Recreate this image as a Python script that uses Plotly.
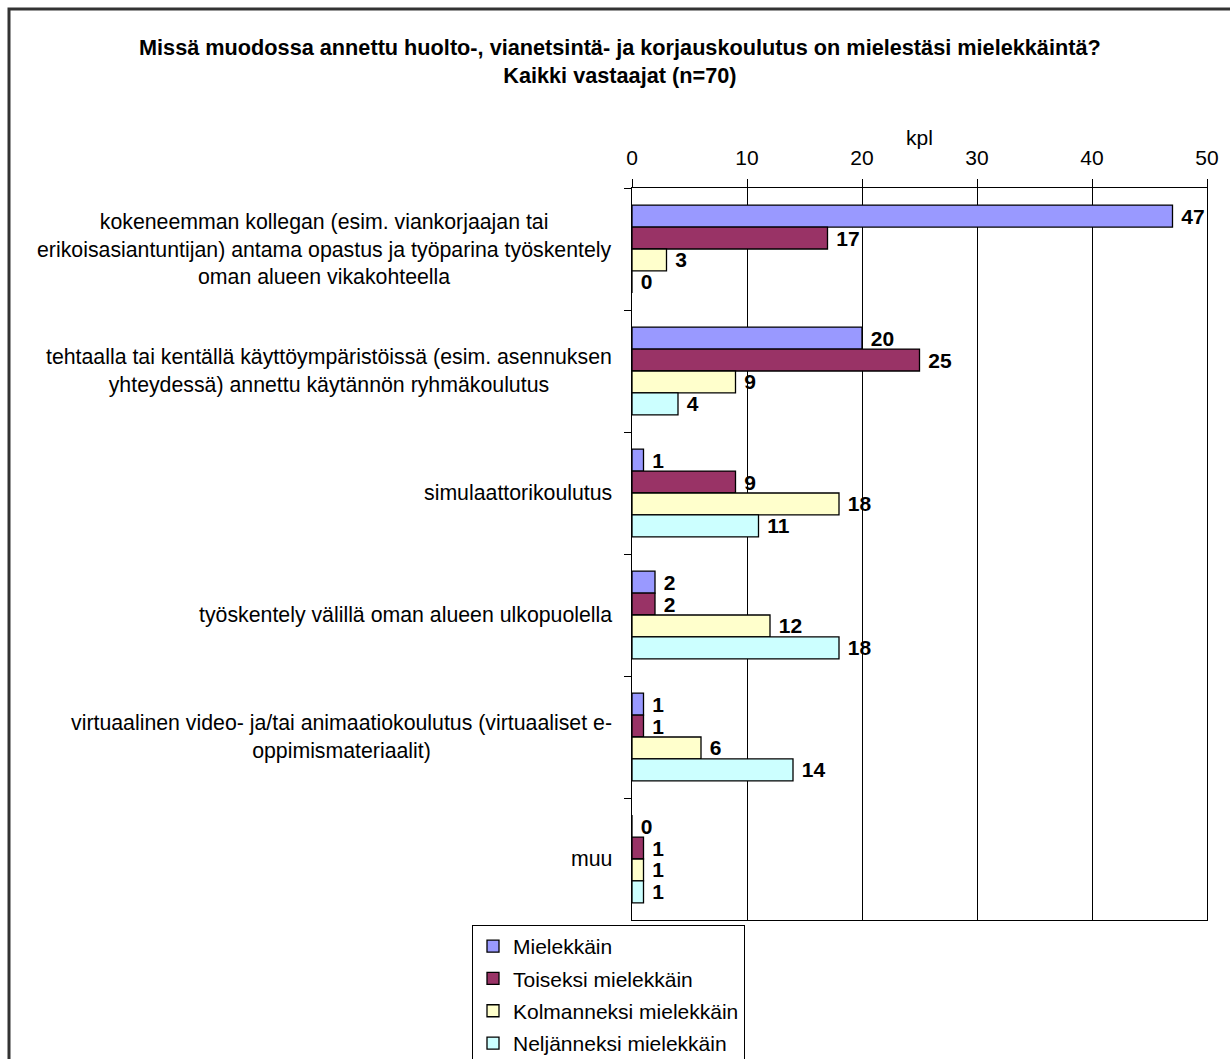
import plotly.graph_objects as go

# Survey answers: how meaningful each form of maintenance training is
categories = [
    "kokeneemman kollegan (esim. viankorjaajan tai<br>erikoisasiantuntijan) antama opastus ja työparina työskentely<br>oman alueen vikakohteella",
    "tehtaalla tai kentällä käyttöympäristöissä (esim. asennuksen<br>yhteydessä) annettu käytännön ryhmäkoulutus",
    "simulaattorikoulutus",
    "työskentely välillä oman alueen ulkopuolella",
    "virtuaalinen video- ja/tai animaatiokoulutus (virtuaaliset e-<br>oppimismateriaalit)",
    "muu",
]
series_names = ["Mielekkäin", "Toiseksi mielekkäin", "Kolmanneksi mielekkäin", "Neljänneksi mielekkäin"]
mielekkain = [47, 20, 1, 2, 1, 0]
toiseksi = [17, 25, 9, 2, 1, 1]
kolmanneksi = [3, 9, 18, 12, 6, 1]
neljanneksi = [0, 4, 11, 18, 14, 1]
series_values = [mielekkain, toiseksi, kolmanneksi, neljanneksi]
colors = ["#9999FF", "#993366", "#FFFFCC", "#CCFFFF"]
x_ticks = [0, 10, 20, 30, 40, 50]

FONT = "Liberation Sans, Arial, sans-serif"
W, H = 1230, 1059
L, R, T, B = 632, 1207, 188, 920


def px_x(p):
    return (p - L) / (R - L)


def px_y(p):
    return (B - p) / (B - T)


fig = go.Figure()
for name, vals, col in zip(series_names, series_values, colors):
    fig.add_trace(go.Bar(
        y=categories, x=vals, name=name, orientation="h",
        marker=dict(color=col, line=dict(color="black", width=1.3)),
        texttemplate="\u00a0%{x}", textposition="outside",
        textfont=dict(family=FONT, size=21, color="black", weight="bold"),
        constraintext="none", cliponaxis=False,
        legendgroup=name,
    ))

annotations = []
# Category labels: centred lines, right-aligned block next to the axis
for cat in categories:
    annotations.append(dict(
        xref="paper", yref="y", x=0, y=cat, xshift=-18,
        xanchor="right", yanchor="middle", align="center",
        text=cat, showarrow=False,
        font=dict(family=FONT, size=21.3, color="black"),
    ))
# Chart title
annotations.append(dict(
    xref="paper", yref="paper", x=px_x(620), y=px_y(33),
    xanchor="center", yanchor="top", align="center",
    text="<b>Missä muodossa annettu huolto-, vianetsintä- ja korjauskoulutus on mielestäsi mielekkäintä?<br>Kaikki vastaajat (n=70)</b>",
    showarrow=False, font=dict(family=FONT, size=21.7, color="black"),
))
# Value axis title
annotations.append(dict(
    xref="x", yref="paper", x=25, y=px_y(137),
    xanchor="center", yanchor="middle", text="kpl", showarrow=False,
    font=dict(family=FONT, size=21, color="black"),
))

shapes = [
    # outer chart frame (runs past the right and bottom edges)
    dict(type="rect", xref="paper", yref="paper",
         x0=px_x(9), x1=px_x(1300), y0=px_y(9), y1=px_y(1120),
         line=dict(color="#333333", width=3), layer="below"),
]

fig.update_layout(
    width=W, height=H,
    margin=dict(l=L, r=W - R, t=T, b=H - B, pad=0, autoexpand=False),
    paper_bgcolor="white", plot_bgcolor="white",
    barmode="group", bargap=0.28, bargroupgap=0,
    font=dict(family=FONT, size=21, color="black"),
    showlegend=True,
    legend=dict(
        x=px_x(472), y=px_y(925), xanchor="left", yanchor="top",
        bordercolor="black", borderwidth=1, bgcolor="white",
        font=dict(family=FONT, size=21, color="black"),
        tracegroupgap=2, traceorder="grouped",
    ),
    annotations=annotations,
    shapes=shapes,
)
fig.update_xaxes(
    side="top", range=[0, 50], tickvals=x_ticks,
    showgrid=True, gridcolor="black", gridwidth=1,
    showline=True, linecolor="black", linewidth=1, mirror=True,
    ticks="outside", ticklen=8, tickcolor="black",
    ticklabelstandoff=6,
    tickfont=dict(family=FONT, size=21, color="black"),
    zeroline=False,
)
fig.update_yaxes(
    autorange="reversed", type="category",
    showticklabels=False, tickson="boundaries",
    ticks="outside", ticklen=7, tickcolor="black",
    showline=True, linecolor="black", linewidth=1, mirror=True,
    showgrid=False, zeroline=False,
)

fig.write_html("out.html")
